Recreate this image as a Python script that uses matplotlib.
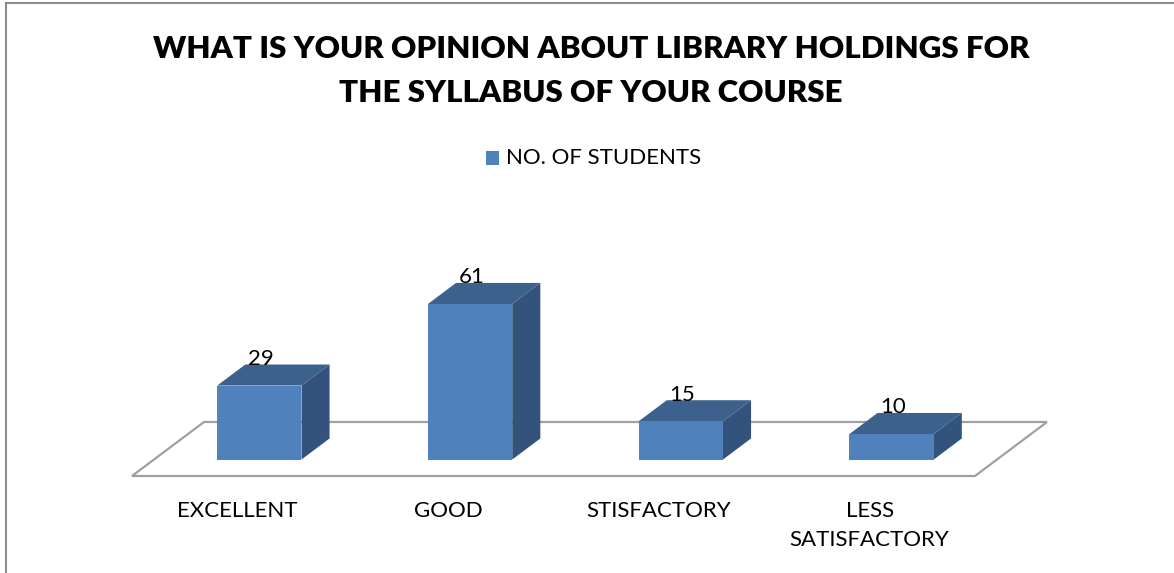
import matplotlib
matplotlib.use('Agg')
from matplotlib import pyplot as plt
from matplotlib.patches import Polygon

categories = ['EXCELLENT', 'GOOD', 'STISFACTORY', 'LESS\nSATISFACTORY']
students = [29, 61, 15, 10]
series_name = 'NO. OF STUDENTS'
title = 'WHAT IS YOUR OPINION ABOUT LIBRARY HOLDINGS FOR\nTHE SYLLABUS OF YOUR COURSE'

plt.rcParams['font.family'] = ['Lato', 'DejaVu Sans']

W, H = 1174, 573
fig = plt.figure(figsize=(W / 100, H / 100), dpi=100)
ax = fig.add_axes([0, 0, 1, 1])
ax.set_axis_off()

# pixel calibration: one category = 210.75 px, one student = 2.55 px
px_cat, px_val = 210.75, 2.55
x_left, y_floor = 132, 476
ax.set_xlim(-0.5 - x_left / px_cat, -0.5 + (W - x_left) / px_cat)
ax.set_ylim(-(H - y_floor) / px_val, y_floor / px_val)

# oblique depth: full floor depth shifts 72 px right and 54 px up
DX, DY = 72 / px_cat, 54 / px_val


def proj(x, v, z):
    return (x + z * DX, v + z * DY)


front_c = '#4F81BD'
top_c = '#3C618D'
side_c = '#33527C'
floor_c = '#A0A0A0'

n = len(categories)
floor = [proj(-0.5, 0, 0), proj(n - 0.5, 0, 0), proj(n - 0.5, 0, 1), proj(-0.5, 0, 1)]
ax.add_patch(Polygon(floor, closed=True, fill=False, edgecolor=floor_c, lw=1.6, zorder=1))

half = 0.2
z0, z1 = 0.305, 0.695
for i, v in enumerate(students):
    l, r = i - half, i + half
    front = [proj(l, 0, z0), proj(r, 0, z0), proj(r, v, z0), proj(l, v, z0)]
    top = [proj(l, v, z0), proj(r, v, z0), proj(r, v, z1), proj(l, v, z1)]
    side = [proj(r, 0, z0), proj(r, 0, z1), proj(r, v, z1), proj(r, v, z0)]
    ax.add_patch(Polygon(side, closed=True, facecolor=side_c, edgecolor='none', zorder=2))
    ax.add_patch(Polygon(top, closed=True, facecolor=top_c, edgecolor='none', zorder=2))
    ax.add_patch(Polygon(front, closed=True, facecolor=front_c, edgecolor='none', zorder=3))
    lx, ly = proj(i, v, z0)
    ax.annotate(str(v), (lx, proj(i, v, z1)[1]), xytext=(1, 4), textcoords='offset points',
                ha='center', va='center', fontsize=16, color='black', zorder=5)
    cx, cy = proj(i, 0, 0)
    ax.annotate(categories[i], (cx, cy), xytext=(0, -18), textcoords='offset points',
                ha='center', va='top', fontsize=16, color='black', linespacing=1.55)

fig.text(591 / W, 1 - 71 / H, title, ha='center', va='center', fontsize=22.5,
         fontweight='heavy', linespacing=1.68)

# legend
fig.patches.append(Polygon([(486 / W, 1 - 151 / H), (499 / W, 1 - 151 / H),
                            (499 / W, 1 - 165 / H), (486 / W, 1 - 165 / H)],
                           closed=True, facecolor=front_c, edgecolor='none',
                           transform=fig.transFigure))
fig.text(506 / W, 1 - 158 / H, series_name, ha='left', va='center', fontsize=16)

# chart border (left and top edges visible)
fig.lines.append(plt.Line2D([6 / W, 6 / W], [0, 1 - 2.5 / H], color='#8C8C8C', lw=1.5,
                            transform=fig.transFigure))
fig.lines.append(plt.Line2D([6 / W, 1], [1 - 2.5 / H, 1 - 2.5 / H], color='#8C8C8C', lw=1.5,
                            transform=fig.transFigure))

fig.savefig('out.png', dpi=100, facecolor='white')
